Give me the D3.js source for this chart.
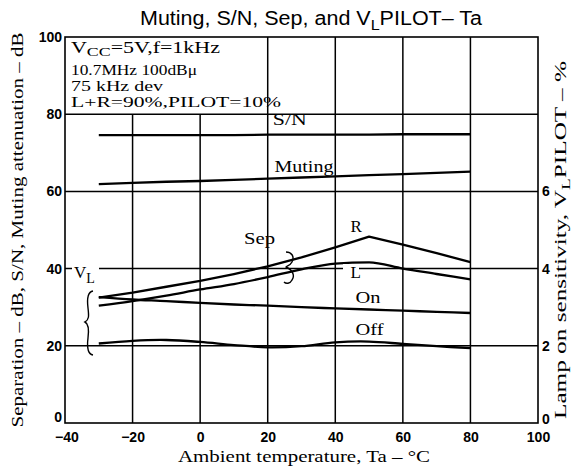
<!DOCTYPE html>
<html>
<head>
<meta charset="utf-8">
<script src="https://cdn.jsdelivr.net/npm/d3@7"></script>
<style>
  html, body { margin: 0; padding: 0; background: #fff; }
  svg { display: block; }
</style>
</head>
<body>
<div id="chart"></div>
<script>
// Ambient temperature sample points (°C)
const ta = [-30, -20, -10, 0, 10, 20, 30, 40, 50, 60, 70, 80];

// Left axis (dB)
const snRatio    = [74.6, 74.6, 74.6, 74.6, 74.6, 74.7, 74.7, 74.7, 74.7, 74.8, 74.8, 74.8];
const muting     = [61.9, 62.2, 62.5, 62.7, 63.0, 63.3, 63.6, 63.9, 64.2, 64.5, 64.8, 65.1];
const sepR       = [32.5, 33.8, 35.3, 36.8, 38.6, 40.6, 42.9, 45.5, 48.3, 46.2, 44.0, 41.7];
const sepL       = [30.4, 31.6, 33.0, 34.6, 36.0, 37.8, 39.8, 41.3, 41.6, 40.0, 38.6, 37.2];
// Right axis (%) — lamp on / off sensitivity
const lampOn     = [3.26, 3.20, 3.16, 3.11, 3.07, 3.04, 3.00, 2.97, 2.94, 2.91, 2.88, 2.85];
const lampOff    = [2.06, 2.13, 2.15, 2.10, 2.02, 1.96, 1.99, 2.09, 2.11, 2.05, 1.99, 1.94];

// Tick labels
const xTicks      = [-40, -20, 0, 20, 40, 60, 80, 100];
const yLeftTicks  = [0, 20, 40, 60, 80, 100];
const yRightTicks = [0, 2, 4, 6];

const W = 574, H = 471;
const svg = d3.select("#chart").append("svg").attr("width", W).attr("height", H);

const x = d3.scaleLinear().domain([-40, 100]).range([65, 538]);
const y = d3.scaleLinear().domain([0, 100]).range([423, 37]);
const yR = d3.scaleLinear().domain([0, 10]).range([423, 37]);

const serif = "'Liberation Serif', 'Times New Roman', serif";
const sans = "'Liberation Sans', Arial, sans-serif";

// Grid: verticals below 80 dB for -20 and 0 (notes box above), full height otherwise
const grid = svg.append("g").attr("stroke", "#000").attr("stroke-width", 1.5);
[-20, 0].forEach(t => grid.append("line")
  .attr("x1", x(t)).attr("x2", x(t)).attr("y1", y(80)).attr("y2", y(0)));
[20, 40, 60, 80].forEach(t => grid.append("line")
  .attr("x1", x(t)).attr("x2", x(t)).attr("y1", y(100)).attr("y2", y(0)));
[20, 40, 60, 80].forEach(v => grid.append("line")
  .attr("x1", x(-40)).attr("x2", x(100)).attr("y1", y(v)).attr("y2", y(v)));

// Frame
svg.append("rect").attr("x", x(-40)).attr("y", y(100))
  .attr("width", x(100) - x(-40)).attr("height", y(0) - y(100))
  .attr("fill", "none").attr("stroke", "#000").attr("stroke-width", 1.6);

// Axes (tick labels only, frame drawn above)
const xAxis = svg.append("g").attr("transform", `translate(0,${y(0)})`)
  .call(d3.axisBottom(x).tickValues(xTicks).tickSize(0).tickPadding(9).tickFormat(d3.format("d")));
const yAxisL = svg.append("g").attr("transform", `translate(${x(-40)},0)`)
  .call(d3.axisLeft(y).tickValues(yLeftTicks).tickSize(0).tickPadding(3));
const yAxisR = svg.append("g").attr("transform", `translate(${x(100)},0)`)
  .call(d3.axisRight(yR).tickValues(yRightTicks).tickSize(0).tickPadding(4));
[xAxis, yAxisL, yAxisR].forEach(g => {
  g.select(".domain").remove();
  g.selectAll("text").attr("font-family", sans).attr("font-weight", "bold")
    .attr("font-size", 14).attr("fill", "#000");
});
yAxisL.selectAll("text").filter(d => d === 0).attr("dy", "-0.1em");
yAxisR.selectAll("text").filter(d => d === 0).attr("dy", "0.05em");
xAxis.selectAll("text").filter(d => d === -40).attr("dx", "0.1em");

// Curves
const lineDb = d3.line().x((d, i) => x(ta[i])).y(d => y(d));
const linePct = d3.line().x((d, i) => x(ta[i])).y(d => yR(d));
const curves = svg.append("g").attr("fill", "none").attr("stroke", "#000")
  .attr("stroke-width", 2.3).attr("stroke-linejoin", "round");
curves.append("path").attr("d", lineDb.curve(d3.curveLinear)(snRatio));
curves.append("path").attr("d", lineDb.curve(d3.curveLinear)(muting));
curves.append("path").attr("d", lineDb.curve(d3.curveLinear)(sepR));
curves.append("path").attr("d", lineDb.curve(d3.curveMonotoneX)(sepL));
curves.append("path").attr("d", linePct.curve(d3.curveMonotoneX)(lampOn));
curves.append("path").attr("d", linePct.curve(d3.curveCatmullRom)(lampOff));

// Curve labels (serif, white backing where they sit on grid lines)
function label(txt, tx, vy, opts = {}) {
  const t = svg.append("text").attr("x", x(tx)).attr("y", y(vy))
    .attr("font-family", serif).attr("font-size", opts.size || 17)
    .attr("fill", "#000").text(txt);
  return t;
}
function backing(x0, y0, w, h) {
  svg.append("rect").attr("x", x0).attr("y", y0).attr("width", w).attr("height", h).attr("fill", "#fff");
}

backing(270, 117, 36, 15);
label("S/N", 21.5, 77.3).attr("textLength", 34).attr("lengthAdjust", "spacingAndGlyphs");
label("Muting", 22.0, 65.0).attr("textLength", 59).attr("lengthAdjust", "spacingAndGlyphs");
label("R", 44.5, 49.5);
backing(343, 264, 16, 12);
label("L", 44.5, 37.5);
label("On", 46.0, 31.2).attr("textLength", 25).attr("lengthAdjust", "spacingAndGlyphs");
label("Off", 46.0, 22.8).attr("textLength", 28).attr("lengthAdjust", "spacingAndGlyphs");
label("Sep", 13.0, 46.3).attr("textLength", 31).attr("lengthAdjust", "spacingAndGlyphs");

// V_L label on the 40 dB line
backing(72, 262, 27, 22);
const vl = svg.append("text").attr("x", 74).attr("y", y(37.6))
  .attr("font-family", serif).attr("font-size", 17).attr("fill", "#000");
vl.append("tspan").text("V");
vl.append("tspan").attr("dy", 5).attr("font-size", 14).text("L");

// Braces
const brace = svg.append("g").attr("fill", "none").attr("stroke", "#000").attr("stroke-width", 1.4);
brace.append("path").attr("d",
  "M 93 291 C 87 292, 87 300, 88 308 C 89 316, 89 320, 85 322 C 89 324, 89 330, 88 338 C 87 346, 87 354, 93 355");
brace.append("path").attr("d",
  "M 286 252 C 291 252, 295 256, 292 262 C 290 266, 286 266, 286 267 C 293 270, 295 276, 292 280 C 290 284, 286 284, 284 282");

// Conditions box
const notes = svg.append("g").attr("font-family", serif).attr("font-size", 15).attr("fill", "#000");
const l1 = notes.append("text").attr("x", 71).attr("y", 53)
  .attr("textLength", 149).attr("lengthAdjust", "spacingAndGlyphs");
l1.append("tspan").attr("font-size", 16).text("V");
l1.append("tspan").attr("dy", 3).attr("font-size", 13).text("CC");
l1.append("tspan").attr("dy", -3).attr("font-size", 16).text("=5V,f=1kHz");
notes.append("text").attr("x", 71).attr("y", 75)
  .attr("textLength", 126).attr("lengthAdjust", "spacingAndGlyphs").text("10.7MHz 100dB\u03bc");
notes.append("text").attr("x", 71).attr("y", 91)
  .attr("textLength", 92).attr("lengthAdjust", "spacingAndGlyphs").text("75 kHz dev");
notes.append("text").attr("x", 71).attr("y", 107)
  .attr("textLength", 210).attr("lengthAdjust", "spacingAndGlyphs").text("L+R=90%,PILOT=10%");

// Title
const title = svg.append("text").attr("x", 140).attr("y", 25)
  .attr("font-family", sans).attr("font-size", 20).attr("fill", "#000")
  .attr("textLength", 342).attr("lengthAdjust", "spacingAndGlyphs");
title.append("tspan").text("Muting, S/N, Sep, and V");
title.append("tspan").attr("dy", 5).attr("font-size", 15).text("L");
title.append("tspan").attr("dy", -5).text("PILOT\u2013 Ta");

// Axis titles
svg.append("text").attr("x", 304).attr("y", 462).attr("text-anchor", "middle")
  .attr("font-family", serif).attr("font-size", 17).attr("fill", "#000")
  .attr("textLength", 252).attr("lengthAdjust", "spacingAndGlyphs")
  .text("Ambient temperature, Ta \u2013 \u00b0C");

svg.append("text").attr("transform", "translate(23,230) rotate(-90)").attr("text-anchor", "middle")
  .attr("font-family", serif).attr("font-size", 17).attr("fill", "#000")
  .attr("textLength", 395).attr("lengthAdjust", "spacingAndGlyphs")
  .text("Separation \u2013 dB, S/N, Muting attenuation \u2013 dB");

const rl = svg.append("text").attr("transform", "translate(566,240) rotate(-90)").attr("text-anchor", "middle")
  .attr("font-family", serif).attr("font-size", 17).attr("fill", "#000")
  .attr("textLength", 358).attr("lengthAdjust", "spacingAndGlyphs");
rl.append("tspan").text("Lamp on sensitivity, V");
rl.append("tspan").attr("dy", 4).attr("font-size", 13).text("L");
rl.append("tspan").attr("dy", -4).text("PILOT \u2013 %");
</script>
</body>
</html>
